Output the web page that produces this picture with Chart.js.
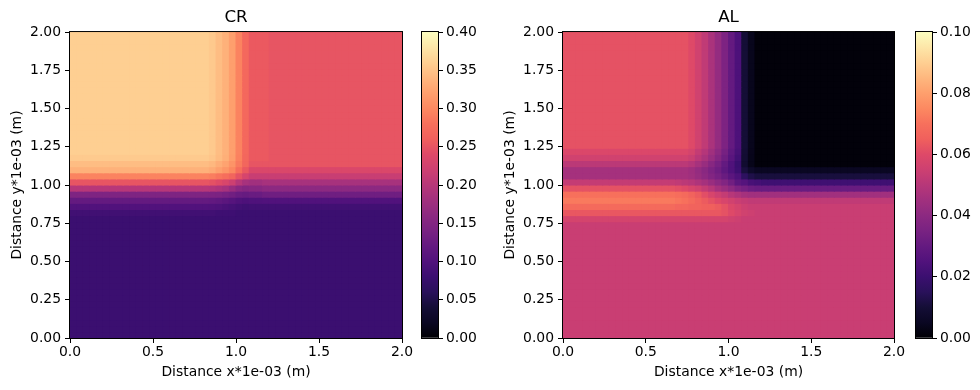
<!DOCTYPE html>
<html>
<head>
<meta charset="utf-8">
<script src="https://cdn.jsdelivr.net/npm/chart.js@4/dist/chart.umd.min.js"></script>
<style>
  body { margin: 0; background: #fff; }
  #wrap { position: relative; width: 980px; height: 390px; }
  #wrap canvas { position: absolute; top: 0; }
</style>
</head>
<body>
<div id="wrap">
  <canvas id="crChart" width="420" height="390" style="left:0px"></canvas>
  <canvas id="crBar" width="90" height="390" style="left:415px"></canvas>
  <canvas id="alChart" width="420" height="390" style="left:493px"></canvas>
  <canvas id="alBar" width="72" height="390" style="left:908px"></canvas>
</div>
<script>
const gridSize = 50;   // cells per side
const extent = 2.0;    // both axes, in 1e-03 m

const xTicks = [0, 0.5, 1, 1.5, 2];
const yTicks = [0, 0.25, 0.5, 0.75, 1, 1.25, 1.5, 1.75, 2];
const crTicks = [0, 0.05, 0.1, 0.15, 0.2, 0.25, 0.3, 0.35, 0.4];
const alTicks = [0, 0.02, 0.04, 0.06, 0.08, 0.1];

// rows listed from the top (y = 2.0) downwards
// each entry: [identical rows, [[value, cells], ...]] -> 50 cells per row
const crRows = [
    [20, [[0.36, 21], [0.355, 1], [0.345, 1], [0.335, 1], [0.32, 1], [0.295, 1], [0.27, 1], [0.254, 3], [0.25, 20]]],
    [1, [[0.356, 21], [0.352, 1], [0.343, 1], [0.333, 1], [0.318, 1], [0.294, 1], [0.269, 1], [0.254, 3], [0.25, 20]]],
    [1, [[0.345, 21], [0.341, 1], [0.332, 1], [0.323, 1], [0.31, 1], [0.289, 1], [0.267, 1], [0.25, 23]]],
    [1, [[0.335, 21], [0.33, 1], [0.321, 1], [0.312, 1], [0.299, 1], [0.276, 1], [0.253, 1], [0.235, 23]]],
    [1, [[0.295, 21], [0.291, 1], [0.284, 1], [0.277, 1], [0.266, 1], [0.248, 1], [0.23, 1], [0.215, 23]]],
    [1, [[0.25, 21], [0.247, 1], [0.241, 1], [0.233, 1], [0.22, 1], [0.2, 1], [0.185, 1], [0.18, 2], [0.185, 21]]],
    [1, [[0.2, 21], [0.197, 1], [0.192, 1], [0.185, 1], [0.172, 1], [0.158, 1], [0.152, 1], [0.155, 2], [0.16, 21]]],
    [1, [[0.145, 21], [0.144, 1], [0.142, 1], [0.138, 1], [0.132, 1], [0.125, 1], [0.122, 1], [0.125, 2], [0.13, 21]]],
    [1, [[0.12, 21], [0.118, 1], [0.115, 1], [0.111, 1], [0.105, 1], [0.099, 1], [0.096, 1], [0.098, 2], [0.1, 21]]],
    [1, [[0.1, 21], [0.099, 1], [0.097, 1], [0.094, 1], [0.09, 1], [0.086, 1], [0.084, 1], [0.085, 23]]],
    [1, [[0.085, 22], [0.083, 3], [0.08, 25]]],
    [20, [[0.08, 50]]]
];

const alRows = [
    [19, [[0.062, 19], [0.06, 1], [0.056, 1], [0.052, 1], [0.047, 1], [0.042, 1], [0.036, 1], [0.03, 1], [0.024, 1], [0.01, 1], [0.004, 1], [0.001, 21]]],
    [1, [[0.059, 19], [0.057, 1], [0.053, 1], [0.0495, 1], [0.0447, 1], [0.04, 1], [0.0343, 1], [0.0285, 1], [0.0229, 1], [0.0096, 1], [0.0038, 1], [0.001, 21]]],
    [1, [[0.056, 19], [0.0542, 1], [0.0506, 1], [0.047, 1], [0.0425, 1], [0.038, 1], [0.0326, 1], [0.0271, 1], [0.0217, 1], [0.0091, 1], [0.0037, 1], [0.001, 21]]],
    [1, [[0.051, 19], [0.0494, 1], [0.0461, 1], [0.0428, 1], [0.0387, 1], [0.0346, 1], [0.0297, 1], [0.0247, 1], [0.0198, 1], [0.0084, 1], [0.0035, 1], [0.001, 21]]],
    [1, [[0.046, 19], [0.0446, 1], [0.042, 1], [0.0393, 1], [0.0359, 1], [0.0326, 1], [0.0285, 1], [0.0245, 1], [0.0205, 1], [0.0111, 1], [0.0071, 1], [0.005, 21]]],
    [1, [[0.046, 19], [0.0448, 1], [0.0426, 1], [0.0403, 1], [0.0374, 1], [0.0345, 1], [0.0311, 1], [0.0276, 1], [0.0242, 1], [0.0162, 1], [0.0127, 1], [0.011, 21]]],
    [1, [[0.053, 17], [0.052, 1], [0.051, 1], [0.05, 1], [0.048, 1], [0.046, 1], [0.043, 1], [0.04, 1], [0.037, 1], [0.033, 1], [0.028, 1], [0.026, 1], [0.023, 1], [0.022, 1], [0.021, 20]]],
    [1, [[0.062, 17], [0.061, 1], [0.06, 1], [0.058, 1], [0.056, 1], [0.053, 1], [0.05, 1], [0.046, 1], [0.043, 1], [0.04, 1], [0.036, 1], [0.034, 1], [0.032, 1], [0.031, 21]]],
    [1, [[0.07, 17], [0.069, 1], [0.068, 1], [0.066, 1], [0.064, 1], [0.061, 1], [0.058, 1], [0.055, 1], [0.053, 1], [0.05, 1], [0.048, 1], [0.046, 1], [0.045, 22]]],
    [1, [[0.072, 17], [0.071, 1], [0.07, 1], [0.068, 1], [0.066, 1], [0.064, 1], [0.062, 1], [0.06, 1], [0.058, 1], [0.056, 1], [0.054, 1], [0.053, 1], [0.052, 22]]],
    [1, [[0.068, 17], [0.067, 2], [0.066, 2], [0.065, 2], [0.064, 1], [0.062, 1], [0.059, 1], [0.057, 1], [0.055, 1], [0.054, 22]]],
    [1, [[0.063, 24], [0.062, 1], [0.06, 1], [0.058, 1], [0.056, 1], [0.055, 1], [0.054, 21]]],
    [1, [[0.057, 25], [0.056, 1], [0.055, 1], [0.054, 23]]],
    [19, [[0.054, 50]]]
];

// magma colormap, 21 stops from 0 to 1
const magmaStops = [
    [0, 0, 4], [10, 7, 34], [20, 14, 54], [41, 17, 90], [59, 15, 112],
    [81, 18, 124], [100, 26, 128], [121, 34, 130], [140, 41, 129], [161, 48, 126],
    [183, 55, 121], [205, 64, 113], [222, 73, 104], [240, 96, 93], [247, 112, 92],
    [252, 137, 97], [254, 159, 109], [254, 183, 126], [254, 207, 146], [253, 230, 168],
    [252, 253, 191]
];

Chart.defaults.font.family = 'DejaVu Sans';
Chart.defaults.font.size = 13.9;
Chart.defaults.color = '#000';

function magma(t) {
    t = Math.max(0, Math.min(1, t));
    const p = t * (magmaStops.length - 1);
    const i = Math.min(Math.floor(p), magmaStops.length - 2);
    const f = p - i;
    const a = magmaStops[i], b = magmaStops[i + 1];
    const c = [0, 1, 2].map(j => Math.round(a[j] + (b[j] - a[j]) * f));
    return 'rgb(' + c.join(',') + ')';
}

function expandRows(rows) {
    const grid = [];
    rows.forEach(([count, runs]) => {
        const row = [];
        runs.forEach(([v, n]) => {
            for (let i = 0; i < n; i++) row.push(v);
        });
        for (let r = 0; r < count; r++) grid.push(row);
    });
    return grid;
}

// one floating-bar dataset per grid row
function cellDatasets(grid, vmax) {
    const size = extent / gridSize;
    return grid.map((row, k) => {
        const top = extent - k * size;
        return {
            data: row.map((v, i) => ({ x: (i + 0.5) * size, y: [top - size, top] })),
            backgroundColor: row.map(v => magma(v / vmax)),
            borderWidth: 0,
            barPercentage: 1,
            categoryPercentage: 1,
            grouped: false,
            inflateAmount: 0.5,
            clip: 0
        };
    });
}

const framePlugin = {
    id: 'frame',
    afterDatasetsDraw(chart) {
        const a = chart.chartArea;
        const ctx = chart.ctx;
        ctx.save();
        ctx.strokeStyle = '#000';
        ctx.lineWidth = 1;
        ctx.strokeRect(a.left - 0.5, a.top - 0.5, a.right - a.left + 1, a.bottom - a.top + 1);
        ctx.restore();
    }
};

function tickGrid() {
    return { drawOnChartArea: false, color: '#000', tickLength: 5, tickWidth: 1, offset: false };
}

function heatmap(id, title, rows, ticks, padRight) {
    const vmax = ticks[ticks.length - 1];
    return new Chart(document.getElementById(id), {
        type: 'bar',
        data: { datasets: cellDatasets(expandRows(rows), vmax) },
        plugins: [framePlugin],
        options: {
            animation: false,
            responsive: false,
            events: [],
            layout: { padding: { left: 0, right: padRight, top: 0, bottom: 9 } },
            plugins: {
                legend: { display: false },
                tooltip: { enabled: false },
                title: {
                    display: true,
                    text: title,
                    fullSize: false,
                    color: '#000',
                    font: { size: 16.7, weight: 'normal' },
                    padding: { top: 8, bottom: 4 }
                }
            },
            scales: {
                x: {
                    type: 'linear',
                    min: 0,
                    max: extent,
                    offset: false,
                    grid: tickGrid(),
                    border: { display: false },
                    ticks: { padding: 1, maxRotation: 0, autoSkip: false, callback: v => v.toFixed(1) },
                    title: { display: true, text: 'Distance x*1e-03 (m)', padding: { top: 0, bottom: 0 } },
                    afterBuildTicks: s => { s.ticks = xTicks.map(v => ({ value: v })); },
                    afterFit: s => { s.height = 43; }
                },
                y: {
                    type: 'linear',
                    min: 0,
                    max: extent,
                    grid: tickGrid(),
                    border: { display: false },
                    ticks: { padding: 4, autoSkip: false, callback: v => v.toFixed(2) },
                    title: { display: true, text: 'Distance y*1e-03 (m)', padding: { top: 9, bottom: 0 } },
                    afterBuildTicks: s => { s.ticks = yTicks.map(v => ({ value: v })); },
                    afterFit: s => { s.width = 70; }
                }
            }
        }
    });
}

function colorbar(id, ticks, padLeft, padRight, axisWidth) {
    const lo = ticks[0], hi = ticks[ticks.length - 1];
    return new Chart(document.getElementById(id), {
        type: 'bar',
        data: {
            labels: [''],
            datasets: [{
                data: [[lo, hi]],
                backgroundColor: c => {
                    const a = c.chart.chartArea;
                    if (!a) return 'transparent';
                    const g = c.chart.ctx.createLinearGradient(0, a.bottom, 0, a.top);
                    magmaStops.forEach((s, i) => g.addColorStop(i / (magmaStops.length - 1), 'rgb(' + s.join(',') + ')'));
                    return g;
                },
                borderWidth: 0,
                barPercentage: 1,
                categoryPercentage: 1
            }]
        },
        plugins: [framePlugin],
        options: {
            animation: false,
            responsive: false,
            events: [],
            layout: { padding: { left: padLeft, right: padRight, top: 32, bottom: 52 } },
            plugins: { legend: { display: false }, tooltip: { enabled: false } },
            scales: {
                x: { display: false },
                y: {
                    position: 'right',
                    min: lo,
                    max: hi,
                    grid: tickGrid(),
                    border: { display: false },
                    ticks: { padding: 3, autoSkip: false, callback: v => v.toFixed(2) },
                    afterBuildTicks: s => { s.ticks = ticks.map(v => ({ value: v })); },
                    afterFit: s => { s.width = axisWidth; }
                }
            }
        }
    });
}

heatmap('crChart', 'CR', crRows, crTicks, 18);
colorbar('crBar', crTicks, 7, 7, 60);
heatmap('alChart', 'AL', alRows, alTicks, 19);
colorbar('alBar', alTicks, 8, 3, 45);
</script>
</body>
</html>
